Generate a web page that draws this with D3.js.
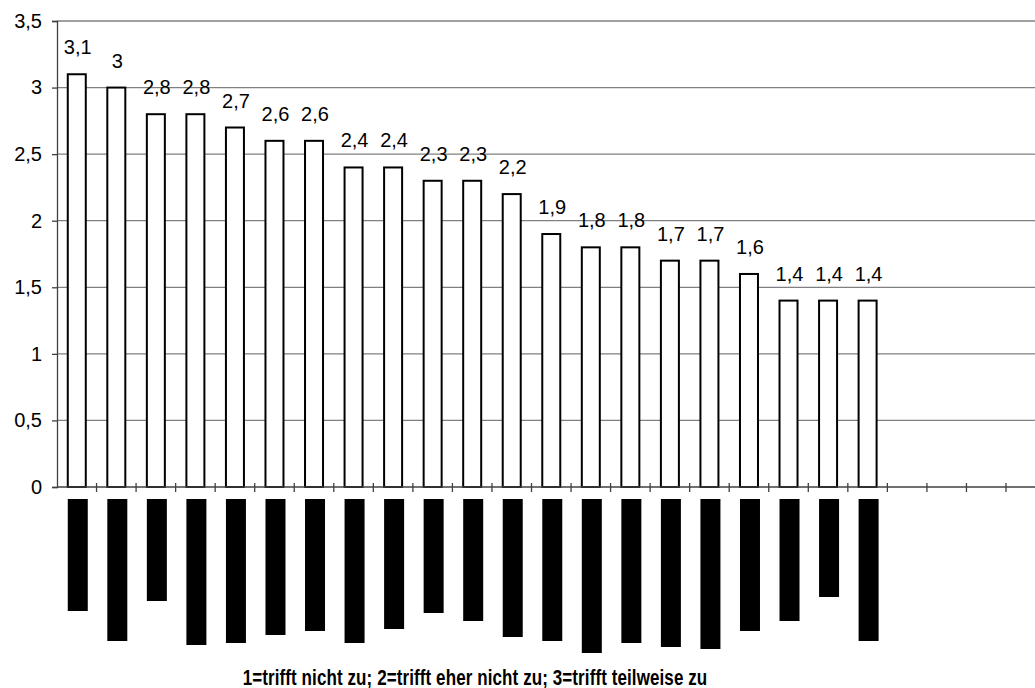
<!DOCTYPE html>
<html>
<head>
<meta charset="utf-8">
<script src="https://cdn.jsdelivr.net/npm/d3@7"></script>
<style>
  html, body { margin: 0; padding: 0; background: #fff; }
  svg { display: block; }
  text { font-family: "Liberation Sans", Arial, sans-serif; fill: #000; }
</style>
</head>
<body>
<svg id="chart" width="1035" height="688"></svg>
<script>
// Mean ratings per item (scale 1..4), sorted descending
const categories = d3.range(1, 25).map(i => "K" + i);
const values = [3.1, 3, 2.8, 2.8, 2.7, 2.6, 2.6, 2.4, 2.4, 2.3, 2.3, 2.2,
                1.9, 1.8, 1.8, 1.7, 1.7, 1.6, 1.4, 1.4, 1.4];
// Length of each (blacked-out) item label, in label units
const labelLengths = [56, 71, 51, 73, 72, 68, 66, 72, 65, 57, 61, 69,
                      71, 77, 72, 74, 75, 66, 61, 49, 71];
const yTicks = [0, 0.5, 1, 1.5, 2, 2.5, 3, 3.5];
const xTitle = "1=trifft nicht zu; 2=trifft eher nicht zu; 3=trifft teilweise zu";

const W = 1035, H = 688;
const margin = { left: 57, top: 21, bottom: 201 };
const plotRight = 1006;

const svg = d3.select("#chart");
const fmt = v => String(v).replace(".", ",");

const x = d3.scaleBand().domain(categories).range([margin.left, plotRight]).padding(0);
const y = d3.scaleLinear().domain([0, 3.5]).range([H - margin.bottom, margin.top]);
const labelLen = d3.scaleLinear().domain([0, 1]).range([0, 2]);

// horizontal gridlines
svg.append("g")
  .selectAll("line")
  .data(yTicks.filter(d => d > 0))
  .join("line")
  .attr("x1", margin.left).attr("x2", W)
  .attr("y1", d => y(d)).attr("y2", d => y(d))
  .attr("stroke", "#808080").attr("stroke-width", 1.3);

// y axis
const yAxis = svg.append("g")
  .attr("transform", `translate(${margin.left},0)`)
  .call(d3.axisLeft(y).tickValues(yTicks).tickSize(5).tickPadding(10).tickFormat(fmt));
yAxis.select(".domain").attr("stroke", "#404040").attr("stroke-width", 1.3);
yAxis.selectAll(".tick line").attr("stroke", "#404040").attr("stroke-width", 1.3);
yAxis.selectAll(".tick text")
  .attr("font-size", 20)
  .attr("font-family", "Liberation Sans, Arial, sans-serif").attr("fill", "#000");

// bars
const bars = svg.append("g");
bars.selectAll("rect")
  .data(values)
  .join("rect")
  .attr("x", (d, i) => x(categories[i]) + x.bandwidth() / 2 - 9)
  .attr("width", 18)
  .attr("y", d => y(d))
  .attr("height", d => y(0) - y(d))
  .attr("fill", "#fff")
  .attr("stroke", "#000")
  .attr("stroke-width", 2);

// x axis (drawn over the bar bottoms)
const xAxisY = y(0);
svg.append("line")
  .attr("x1", margin.left).attr("x2", W)
  .attr("y1", xAxisY).attr("y2", xAxisY)
  .attr("stroke", "#404040").attr("stroke-width", 1.3);
svg.append("g")
  .selectAll("line")
  .data(categories)
  .join("line")
  .attr("x1", d => x(d) + x.bandwidth()).attr("x2", d => x(d) + x.bandwidth())
  .attr("y1", xAxisY - 4).attr("y2", xAxisY + 5)
  .attr("stroke", "#404040").attr("stroke-width", 1.3);

// value labels
svg.append("g")
  .selectAll("text")
  .data(values)
  .join("text")
  .attr("x", (d, i) => x(categories[i]) + x.bandwidth() / 2 + 1)
  .attr("y", d => y(d) - 20)
  .attr("text-anchor", "middle")
  .attr("font-size", 20)
  .text(fmt);

// blacked-out category labels
svg.append("g")
  .selectAll("rect")
  .data(labelLengths)
  .join("rect")
  .attr("x", (d, i) => x(categories[i]) + x.bandwidth() / 2 - 9)
  .attr("width", 20)
  .attr("y", xAxisY + 12)
  .attr("height", d => labelLen(d))
  .attr("fill", "#000");

// axis title (tall, narrow bold face)
svg.append("text")
  .attr("transform", "translate(475,685) scale(1,1.3)")
  .attr("text-anchor", "middle")
  .attr("font-size", 17)
  .attr("font-weight", "bold")
  .attr("letter-spacing", 0.1)
  .text(xTitle);
</script>
</body>
</html>
